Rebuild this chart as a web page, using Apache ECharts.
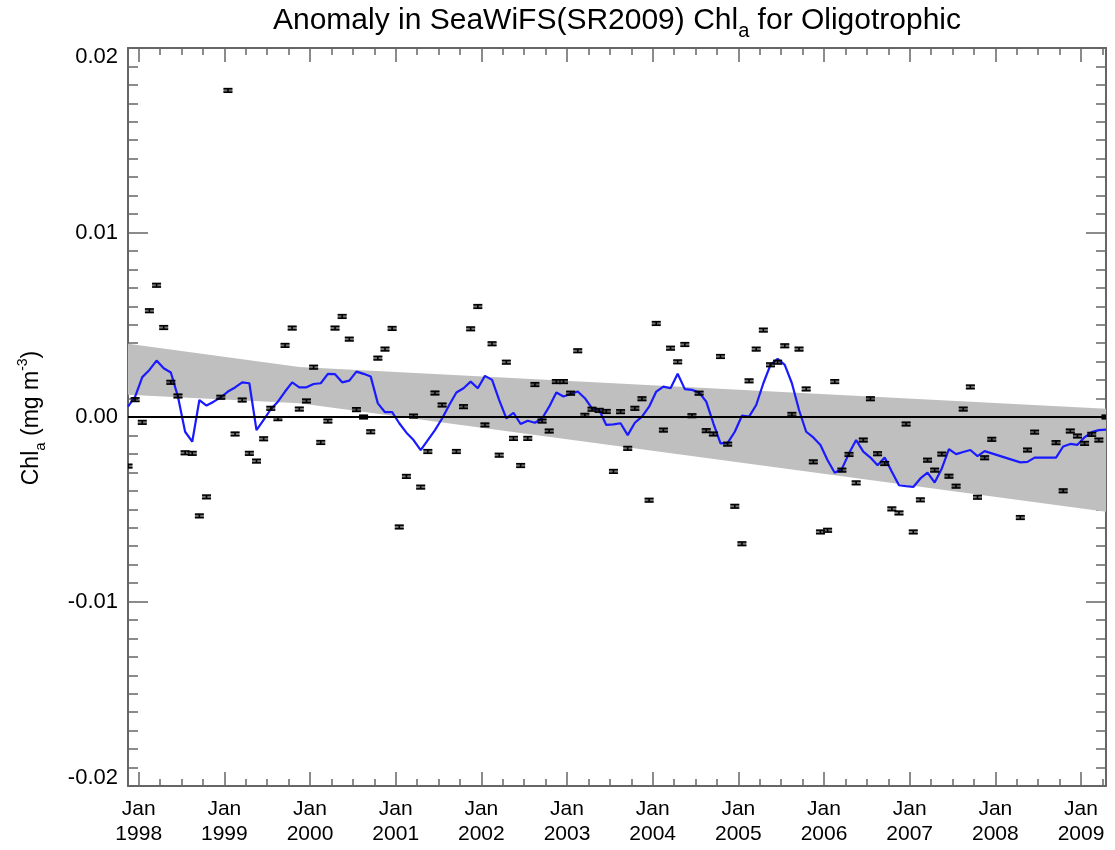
<!DOCTYPE html>
<html><head><meta charset="utf-8">
<script src="https://cdn.jsdelivr.net/npm/echarts@6.0.0/dist/echarts.min.js"></script>
<style>html,body{margin:0;padding:0;background:#fff;}#chart{width:1115px;height:850px;}</style>
</head><body><div id="chart"></div>
<script>
// ---------------- data ----------------
const months = [
 '1997-11','1997-12',
 '1998-01','1998-02','1998-03','1998-04','1998-05','1998-06','1998-07','1998-08','1998-09','1998-10','1998-11','1998-12',
 '1999-01','1999-02','1999-03','1999-04','1999-05','1999-06','1999-07','1999-08','1999-09','1999-10','1999-11','1999-12',
 '2000-01','2000-02','2000-03','2000-04','2000-05','2000-06','2000-07','2000-08','2000-09','2000-10','2000-11','2000-12',
 '2001-01','2001-02','2001-03','2001-04','2001-05','2001-06','2001-07','2001-08','2001-09','2001-10','2001-11','2001-12',
 '2002-01','2002-02','2002-03','2002-04','2002-05','2002-06','2002-07','2002-08','2002-09','2002-10','2002-11','2002-12',
 '2003-01','2003-02','2003-03','2003-04','2003-05','2003-06','2003-07','2003-08','2003-09','2003-10','2003-11','2003-12',
 '2004-01','2004-02','2004-03','2004-04','2004-05','2004-06','2004-07','2004-08','2004-09','2004-10','2004-11','2004-12',
 '2005-01','2005-02','2005-03','2005-04','2005-05','2005-06','2005-07','2005-08','2005-09','2005-10','2005-11','2005-12',
 '2006-01','2006-02','2006-03','2006-04','2006-05','2006-06','2006-07','2006-08','2006-09','2006-10','2006-11','2006-12',
 '2007-01','2007-02','2007-03','2007-04','2007-05','2007-06','2007-07','2007-08','2007-09','2007-10','2007-11','2007-12',
 '2008-01','2008-02','2008-03','2008-04','2008-05','2008-06','2008-07','2008-08','2008-09','2008-10','2008-11','2008-12',
 '2009-01','2009-02','2009-03','2009-04'
];

// monthly anomaly (mg m^-3), null = no data
const anomaly = [
 -0.00266, 0.00094,
 -0.00029, 0.00576, 0.00714, 0.00485, 0.00188, 0.00114, -0.00194, -0.00197, -0.00536, -0.00433, null, 0.00107,
  0.01770, -0.00092, 0.00092, -0.00197, -0.00239, -0.00118, 0.00047, -0.00009, 0.00388, 0.00482, 0.00043, 0.00087,
  0.00270, -0.00138, -0.00022, 0.00482, 0.00545, 0.00422, 0.00040, 0.00000, -0.00080, 0.00319, 0.00368, 0.00480,
 -0.00596, -0.00322, 0.00005, -0.00380, -0.00187, 0.00130, 0.00065, null, -0.00187, 0.00056, 0.00478, 0.00599,
 -0.00043, 0.00397, -0.00207, 0.00297, -0.00116, -0.00263, -0.00116, 0.00176, -0.00022, -0.00076, 0.00192, 0.00192,
  0.00129, 0.00359, 0.00009, 0.00042, 0.00036, 0.00030, -0.00295, 0.00029, -0.00170, 0.00047, 0.00099, -0.00451,
  0.00507, -0.00071, 0.00373, 0.00299, 0.00393, 0.00007, 0.00129, -0.00074, -0.00092, 0.00328, -0.00147, -0.00484,
 -0.00687, 0.00196, 0.00368, 0.00471, 0.00283, 0.00297, 0.00386, 0.00014, 0.00368, 0.00152, -0.00243, -0.00623,
 -0.00614, 0.00192, -0.00288, -0.00203, -0.00357, -0.00125, 0.00099, -0.00199, -0.00252, -0.00498, -0.00520, -0.00038,
 -0.00623, -0.00449, -0.00234, -0.00288, -0.00201, -0.00321, -0.00375, 0.00043, 0.00163, -0.00435, -0.00221, -0.00121,
  null, null, null, -0.00545, -0.00179, -0.00082, null, null, -0.00139, -0.00400, -0.00076, -0.00103,
 -0.00143, -0.00094, -0.00125, 0.00000
];

// smoothed anomaly (blue line), mg m^-3
const smoothed = [
 0.00056, 0.00110,
 0.00216, 0.00255, 0.00306, 0.00264, 0.00241, 0.00110, -0.00080, -0.00134, 0.00092, 0.00062, 0.00083, 0.00107,
 0.00138, 0.00160, 0.00188, 0.00183, -0.00071, -0.00016, 0.00042, 0.00083, 0.00138, 0.00188, 0.00161, 0.00161,
 0.00179, 0.00183, 0.00234, 0.00232, 0.00188, 0.00197, 0.00246, 0.00234, 0.00219, 0.00074, 0.00026, 0.00026,
 -0.00034, -0.00085, -0.00125, -0.00179, -0.00125, -0.00071, -0.00008, 0.00065, 0.00133, 0.00156, 0.00192, 0.00156,
 0.00223, 0.00201, 0.00092, -0.00008, 0.00023, -0.00038, -0.00020, -0.00031, -0.00008, 0.00056, 0.00133, 0.00111,
 0.00125, 0.00138, 0.00102, 0.00047, 0.00038, -0.00043, -0.00040, -0.00034, -0.00098, -0.00031, 0.00002, 0.00056,
 0.00138, 0.00165, 0.00156, 0.00234, 0.00151, 0.00147, 0.00133, 0.00083, -0.00034, -0.00143, -0.00140, -0.00080,
 0.00007, 0.00002, 0.00065, 0.00183, 0.00283, 0.00315, 0.00283, 0.00183, 0.00038, -0.00080, -0.00111, -0.00152,
 -0.00234, -0.00302, -0.00281, -0.00197, -0.00125, -0.00188, -0.00220, -0.00261, -0.00219, -0.00297, -0.00370, -0.00375,
 -0.00379, -0.00333, -0.00302, -0.00355, -0.00279, -0.00174, -0.00201, -0.00190, -0.00179, -0.00212, -0.00185, null,
 null, null, null, -0.00246, -0.00243, -0.00220, null, null, -0.00220, -0.00160, -0.00146, -0.00151,
 -0.00110, -0.00082, -0.00071, -0.00068
];

// trend confidence band (grey), mg m^-3
const bandMonths = ['1997-11', '1999-11', '2009-04'];
const bandUpper  = [0.00397, 0.00271, 0.00045];
const bandLower  = [0.00120, 0.00075, -0.00513];

const tickYears = [1998,1999,2000,2001,2002,2003,2004,2005,2006,2007,2008,2009];
const yTickLabels = ['-0.02','-0.01','0.00','0.01','0.02'];

// ---------------- helpers ----------------
function decYear(m) { const p = m.split('-'); return +p[0] + (+p[1] - 0.5) / 12; }
const X_MIN = decYear(months[0]);
const X_MAX = decYear(months[months.length - 1]);
const majorTicks = tickYears.slice();
const minorTicks = [];
for (let y = 1997; y <= 2009; y++) [0.25, 0.5, 0.75].forEach(f => { const v = y + f; if (v > X_MIN && v < X_MAX) minorTicks.push(v); });

const pointData = [];
months.forEach((m, i) => { if (anomaly[i] !== null) pointData.push([decYear(m), anomaly[i]]); });
const lineData = months.map((m, i) => [decYear(m), smoothed[i]]);

const FRAME = '#666';
const FONT = 'Liberation Sans, Arial, Helvetica, sans-serif';

function frameX(pos, ticks, len, showLine, grid, showLabel) {
  return {
    type: 'value', gridIndex: grid, position: pos, min: X_MIN, max: X_MAX,
    axisLine: { show: showLine, onZero: false, lineStyle: { color: FRAME, width: 2 } },
    axisTick: { show: true, inside: true, length: len, customValues: ticks, lineStyle: { color: FRAME, width: 1.5 } },
    axisLabel: showLabel ? {
      show: true, customValues: majorTicks, margin: 11, color: '#000', fontSize: 21, fontFamily: FONT, lineHeight: 25,
      formatter: v => 'Jan\n' + Math.round(v)
    } : { show: false },
    splitLine: { show: false }
  };
}
function frameY(pos, grid, showLabel, full) {
  return {
    type: 'value', gridIndex: grid, position: pos, min: -0.02, max: 0.02, interval: 0.01,
    axisLine: { show: full, onZero: false, lineStyle: { color: FRAME, width: 2 } },
    axisTick: { show: full, inside: true, length: 20, lineStyle: { color: FRAME, width: 1.5 } },
    minorTick: { show: full, splitNumber: 10, length: 10, lineStyle: { color: FRAME, width: 1.5 } },
    axisLabel: showLabel ? {
      show: true, margin: 10, color: '#000', fontSize: 22, fontFamily: FONT,
      formatter: v => {
        const k = Math.round((v + 0.02) / 0.01);
        const t = yTickLabels[k];
        if (k === yTickLabels.length - 1) return '{top|' + t + '}';
        if (k === 0) return '{bot|' + t + '}';
        return t;
      },
      rich: {
        top: { fontSize: 22, fontFamily: FONT, color: '#000', padding: [18, 0, 0, 0] },
        bot: { fontSize: 22, fontFamily: FONT, color: '#000', padding: [0, 0, 16, 0] }
      }
    } : { show: false },
    splitLine: { show: false }
  };
}

const gridBox = { left: 128, right: 9, top: 48, bottom: 64, containLabel: false, outerBoundsMode: 'none' };

const chart = echarts.init(document.getElementById('chart'), null, { renderer: 'canvas' });
chart.setOption({
  animation: false,
  backgroundColor: '#fff',
  grid: [Object.assign({}, gridBox), Object.assign({}, gridBox)],
  xAxis: [
    frameX('bottom', majorTicks, 14, true, 0, true),
    frameX('top', majorTicks, 14, true, 0, false),
    frameX('bottom', minorTicks, 7, false, 1, false),
    frameX('top', minorTicks, 7, false, 1, false)
  ],
  yAxis: [
    frameY('left', 0, true, true),
    frameY('right', 0, false, true),
    frameY('left', 1, false, false)
  ],
  graphic: [
    {
      type: 'text', x: 617, y: 21, z: 100,
      style: {
        text: 'Anomaly in SeaWiFS(SR2009) Chl{sub|a} for Oligotrophic',
        fill: '#000', fontSize: 30, fontFamily: FONT, align: 'center', verticalAlign: 'middle',
        rich: { sub: { fontSize: 20, fontFamily: FONT, fill: '#000', lineHeight: 20, padding: [20, 0, 0, 0] } }
      }
    },
    {
      type: 'text', x: 32, y: 418, rotation: Math.PI / 2, z: 100,
      style: {
        text: 'Chl{sub|a} (mg m{sup|-3})',
        fill: '#000', fontSize: 23, fontFamily: FONT, align: 'center', verticalAlign: 'middle',
        rich: {
          sub: { fontSize: 15, fontFamily: FONT, fill: '#000', lineHeight: 15, padding: [17, 0, 0, 0] },
          sup: { fontSize: 14, fontFamily: FONT, fill: '#000', lineHeight: 14, padding: [0, 0, 17, 0] }
        }
      }
    }
  ],
  series: [
    {
      type: 'custom', name: 'band', xAxisIndex: 0, yAxisIndex: 0, z: 1, silent: true, clip: true,
      data: [[X_MIN, 0]],
      renderItem: (params, api) => {
        const pts = [];
        for (let i = 0; i < bandMonths.length; i++) pts.push(api.coord([decYear(bandMonths[i]), bandUpper[i]]));
        for (let i = bandMonths.length - 1; i >= 0; i--) pts.push(api.coord([decYear(bandMonths[i]), bandLower[i]]));
        return { type: 'polygon', shape: { points: pts }, style: { fill: '#bfbfbf' } };
      },
      markLine: {
        silent: true, symbol: ['none', 'none'], label: { show: false },
        lineStyle: { color: '#000', width: 2, type: 'solid' },
        data: [{ yAxis: 0 }]
      }
    },
    {
      type: 'line', name: 'smoothed', xAxisIndex: 0, yAxisIndex: 0, z: 3, data: lineData,
      showSymbol: false, connectNulls: true, clip: true, silent: true,
      lineStyle: { color: '#1a1aff', width: 2.2 }
    },
    {
      type: 'custom', name: 'anomaly', xAxisIndex: 0, yAxisIndex: 0, z: 4, clip: true, silent: true,
      data: pointData,
      renderItem: (params, api) => {
        const c = api.coord([api.value(0), api.value(1)]);
        const hw = 4.5, hh = 1.8, st = { stroke: '#000', lineWidth: 1.6 };
        return {
          type: 'group', children: [
            { type: 'rect', shape: { x: c[0] - hw, y: c[1] - hh, width: 2 * hw, height: 2 * hh }, style: { fill: 'rgba(0,0,0,0.55)' } },
            { type: 'line', shape: { x1: c[0] - hw, y1: c[1] - hh, x2: c[0] + hw, y2: c[1] - hh }, style: st },
            { type: 'line', shape: { x1: c[0] - hw, y1: c[1] + hh, x2: c[0] + hw, y2: c[1] + hh }, style: st },
            { type: 'line', shape: { x1: c[0], y1: c[1] - hh, x2: c[0], y2: c[1] + hh }, style: st }
          ]
        };
      }
    }
  ]
});
</script></body></html>
